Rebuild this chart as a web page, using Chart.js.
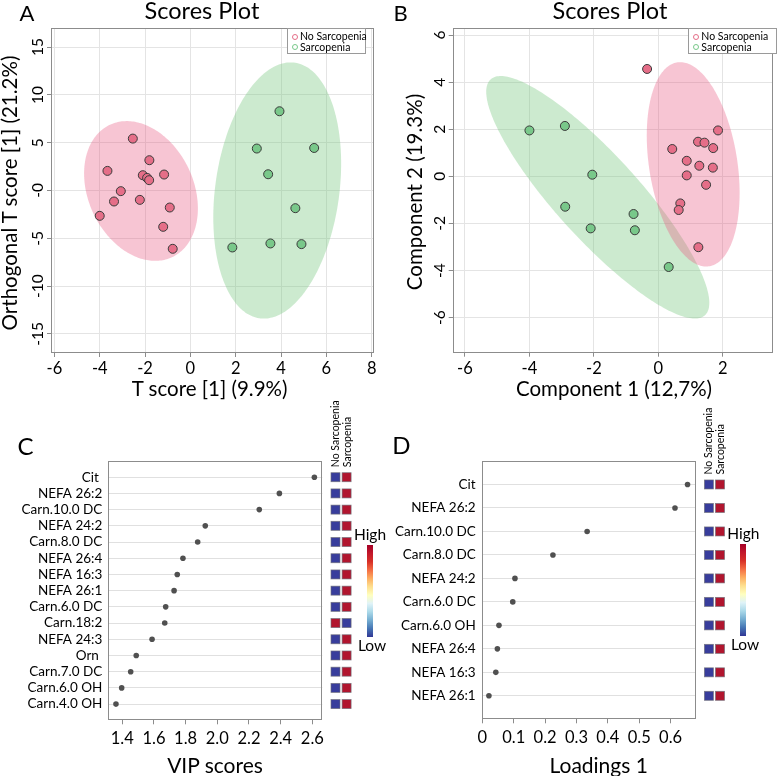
<!DOCTYPE html>
<html><head><meta charset="utf-8">
<script src="https://cdn.jsdelivr.net/npm/chart.js@4/dist/chart.umd.min.js"></script>
<style>
html,body{margin:0;padding:0;background:#fff;}
body{width:778px;height:776px;position:relative;overflow:hidden;font-family:Lato,sans-serif;}
canvas{position:absolute;}
.lg{position:absolute;border:1px solid #9a9a9a;background:#fff;box-sizing:border-box;}
.bar{position:absolute;background:linear-gradient(to bottom,#a50026,#c2172b,#d73027,#f46d43,#fdae61,#fee090,#ffffbf,#e0f3f8,#abd9e9,#74add1,#4575b4,#313695);}
</style></head>
<body>
<canvas id="cA" width="390" height="400" style="left:0;top:0"></canvas>
<canvas id="cB" width="388" height="400" style="left:390px;top:0"></canvas>
<canvas id="cC" width="390" height="376" style="left:0;top:400px"></canvas>
<canvas id="cD" width="388" height="376" style="left:390px;top:400px"></canvas>
<script>
// ---------- DATA ----------
const groups = ['No Sarcopenia', 'Sarcopenia'];
// Panel A (OPLS-DA scores)
const aNoSarcX = [-2.54,-3.66,-1.81,-2.10,-1.91,-1.82,-1.16,-3.07,-3.37,-2.23,-4.00,-0.91,-1.20,-0.78];
const aNoSarcY = [5.43,2.05,3.17,1.60,1.32,1.08,1.67,-0.07,-1.15,-0.98,-2.65,-1.78,-3.80,-6.10];
const aSarcX = [3.93,2.93,5.46,3.43,4.63,1.85,3.53,4.90];
const aSarcY = [8.29,4.39,4.45,1.70,-1.85,-5.96,-5.54,-5.61];
// ellipse: [centerX, centerY, halfWidthX, halfHeightY, tilt correlation]
const aNoSarcEllipse = [-2.18, -0.05, 2.51, 7.31, -0.25];
const aSarcEllipse = [3.83, 0.00, 2.82, 13.40, 0.21];
const aXTicks = [-6,-4,-2,0,2,4,6,8];
const aYTicks = [-15,-10,-5,0,5,10,15];
const aYTickLabels = ['-15','-10','-5','-0','5','10','15'];
// Panel B (PLS-DA scores)
const bNoSarcX = [-0.35,1.85,0.43,1.23,1.43,1.70,0.88,1.27,1.69,0.88,1.48,0.68,0.63,1.24];
const bNoSarcY = [4.56,1.95,1.16,1.47,1.43,1.20,0.66,0.45,0.37,0.04,-0.36,-1.15,-1.43,-3.01];
const bSarcX = [-4.00,-2.90,-2.05,-2.89,-2.10,-0.77,-0.73,0.32];
const bSarcY = [1.95,2.14,0.07,-1.29,-2.21,-1.60,-2.29,-3.85];
const bNoSarcEllipse = [1.08, 0.51, 1.44, 4.34, -0.28];
const bSarcEllipse = [-1.88, -0.89, 3.46, 5.15, -0.87];
const bXTicks = [-6,-4,-2,0,2];
const bYTicks = [-6,-4,-2,0,2,4,6];
// Panel C (VIP scores)
const cLabels = ['Cit ','NEFA 26:2','Carn.10.0 DC','NEFA 24:2','Carn.8.0 DC','NEFA 26:4','NEFA 16:3','NEFA 26:1','Carn.6.0 DC','Carn.18:2','NEFA 24:3','Orn ','Carn.7.0 DC','Carn.6.0 OH','Carn.4.0 OH'];
const cVip = [2.613,2.392,2.265,1.924,1.876,1.783,1.747,1.727,1.674,1.668,1.588,1.488,1.453,1.396,1.360];
const cNoSarcLevel = [0,0,0,0,0,0,0,0,0,1,0,0,0,0,0]; // 0 = Low, 1 = High
const cSarcLevel   = [1,1,1,1,1,1,1,1,1,0,1,1,1,1,1];
const cXTicks = [1.4,1.6,1.8,2.0,2.2,2.4,2.6];
// Panel D (Loadings)
const dLabels = ['Cit','NEFA 26:2','Carn.10.0 DC','Carn.8.0 DC','NEFA 24:2','Carn.6.0 DC','Carn.6.0 OH','NEFA 26:4','NEFA 16:3','NEFA 26:1'];
const dLoad = [0.654,0.614,0.334,0.225,0.104,0.097,0.053,0.048,0.043,0.021];
const dNoSarcLevel = [0,0,0,0,0,0,0,0,0,0];
const dSarcLevel   = [1,1,1,1,1,1,1,1,1,1];
const dXTicks = [0,0.1,0.2,0.3,0.4,0.5,0.6];

// ---------- STYLE ----------
const FONT = 'Lato';
const PINK = '#e56e88', GREEN = '#79c88a';
const PINK_E = 'rgba(233,90,130,0.35)', GREEN_E = 'rgba(120,200,130,0.38)';
const LOW = '#383d9c', HIGH = '#b1152e';
const BOX = '#8c8c8c';

function txt(s, x, y, size, o = {}) {
  const d = document.createElement('div');
  d.textContent = s;
  const tr = o.left ? 'translate(0,-50%)' : 'translate(-50%,-50%)';
  d.style.cssText = `position:absolute;left:${x}px;top:${y}px;font:400 ${size}px ${FONT};line-height:1;white-space:nowrap;color:#000;transform:${tr}${o.rot ? ' rotate(-90deg)' : ''}`;
  document.body.appendChild(d);
}

const boxPlugin = { id: 'box', afterDraw(chart) {
  const a = chart.chartArea, c = chart.ctx;
  c.save(); c.strokeStyle = BOX; c.lineWidth = 1;
  c.strokeRect(Math.round(a.left) + 0.5, Math.round(a.top) + 0.5, Math.round(a.right - a.left) - 1, Math.round(a.bottom - a.top) - 1);
  c.restore();
}};

function ellipsePlugin(list) { return { id: 'ell', beforeDatasetsDraw(chart) {
  const { ctx, chartArea: a, scales: { x, y } } = chart;
  ctx.save(); ctx.beginPath(); ctx.rect(a.left, a.top, a.right - a.left, a.bottom - a.top); ctx.clip();
  list.forEach(([p, col]) => {
    const [cx, cy, sx, sy, r] = p, q = Math.sqrt(1 - r * r);
    ctx.beginPath();
    for (let k = 0; k <= 240; k++) {
      const t = 2 * Math.PI * k / 240;
      const px = x.getPixelForValue(cx + sx * Math.cos(t));
      const py = y.getPixelForValue(cy + sy * (r * Math.cos(t) + q * Math.sin(t)));
      k ? ctx.lineTo(px, py) : ctx.moveTo(px, py);
    }
    ctx.closePath(); ctx.fillStyle = col; ctx.fill();
  });
  ctx.restore();
}};}

function rotYTicks(labels, dx) { return { id: 'rty', afterDraw(chart) {
  const { ctx, chartArea: a, scales: { y } } = chart;
  ctx.save(); ctx.font = `15.5px ${FONT}`; ctx.fillStyle = '#000'; ctx.textAlign = 'center'; ctx.textBaseline = 'middle';
  y.ticks.forEach((t, i) => {
    ctx.save(); ctx.translate(a.left + dx, y.getPixelForValue(t.value)); ctx.rotate(-Math.PI / 2);
    ctx.fillText(labels ? labels[i] : String(t.value), 0, 0); ctx.restore();
  });
  ctx.restore();
}};}

function heatPlugin(noLvl, sLvl) { return { id: 'heat', afterDraw(chart) {
  const { ctx, chartArea: a, scales: { y } } = chart;
  ctx.save();
  const cell = (x0, yc, v) => {
    ctx.fillStyle = v ? HIGH : LOW; ctx.fillRect(x0, yc - 4.5, 9, 9);
    ctx.strokeStyle = 'rgba(110,110,120,0.8)'; ctx.lineWidth = 0.8; ctx.strokeRect(x0, yc - 4.5, 9, 9);
  };
  noLvl.forEach((v, i) => { const yc = y.getPixelForValue(i + 1); cell(a.right + 8.7, yc, v); cell(a.right + 19.8, yc, sLvl[i]); });
  const y0 = y.getPixelForValue(1) - 10;
  ctx.font = `10.5px ${FONT}`; ctx.fillStyle = '#000'; ctx.textAlign = 'left'; ctx.textBaseline = 'middle';
  [[groups[0], 13], [groups[1], 25]].forEach(([s, dx]) => {
    ctx.save(); ctx.translate(a.right + dx, y0); ctx.rotate(-Math.PI / 2); ctx.fillText(s, 0, 0); ctx.restore();
  });
  ctx.restore();
}};}

function scoreChart(id, pts, ells, xr, yr, xt, yt, ytl, pad, yW, ytDx) {
  const ds = pts.map(([xs, ys, col]) => ({
    data: xs.map((v, i) => ({ x: v, y: ys[i] })), backgroundColor: col, borderColor: '#3a3a3a', borderWidth: 1, pointRadius: 4.5
  }));
  return new Chart(document.getElementById(id), {
    type: 'scatter', data: { datasets: ds },
    options: {
      responsive: false, animation: false, layout: { padding: pad },
      plugins: { legend: { display: false }, tooltip: { enabled: false } },
      scales: {
        x: { type: 'linear', min: xr[0], max: xr[1], afterBuildTicks: ax => { ax.ticks = xt.map(v => ({ value: v })); },
          ticks: { font: { family: FONT, size: 16.5 }, color: '#000', padding: 2, maxRotation: 0, autoSkip: false },
          grid: { color: '#e4e4e4', tickColor: BOX, tickLength: 4 }, border: { display: false },
          afterFit: ax => { ax.height = 30; } },
        y: { type: 'linear', min: yr[0], max: yr[1], afterBuildTicks: ax => { ax.ticks = yt.map(v => ({ value: v })); },
          ticks: { display: false }, grid: { color: '#e4e4e4', tickColor: BOX, tickLength: 4 }, border: { display: false },
          afterFit: ax => { ax.width = yW; } }
      }
    },
    plugins: [ellipsePlugin(ells), boxPlugin, rotYTicks(ytl, ytDx)]
  });
}

scoreChart('cA', [[aNoSarcX, aNoSarcY, PINK], [aSarcX, aSarcY, GREEN]],
  [[aSarcEllipse, GREEN_E], [aNoSarcEllipse, PINK_E]], [-6.15, 8.1], [-17, 17], aXTicks, aYTicks, aYTickLabels,
  { left: 0, top: 28, right: 16, bottom: 17 }, 51, -13);
scoreChart('cB', [[bNoSarcX, bNoSarcY, PINK], [bSarcX, bSarcY, GREEN]],
  [[bSarcEllipse, GREEN_E], [bNoSarcEllipse, PINK_E]], [-6.38, 3.54], [-7.49, 6.3], bXTicks, bYTicks, null,
  { left: 0, top: 28, right: 1.3, bottom: 17.3 }, 62.7, -12.7);

function dotChart(id, labels, vals, noLvl, sLvl, xr, xt, fmt, pad, yW) {
  return new Chart(document.getElementById(id), {
    type: 'scatter',
    data: { datasets: [{ data: vals.map((v, i) => ({ x: v, y: i + 1 })), backgroundColor: '#505050', borderWidth: 0, pointRadius: 2.8 }] },
    options: {
      responsive: false, animation: false, layout: { padding: pad },
      plugins: { legend: { display: false }, tooltip: { enabled: false } },
      scales: {
        x: { type: 'linear', min: xr[0], max: xr[1], afterBuildTicks: ax => { ax.ticks = xt.map(v => ({ value: v })); },
          ticks: { callback: fmt, font: { family: FONT, size: 16.5 }, color: '#000', padding: 4, maxRotation: 0, autoSkip: false },
          grid: { drawOnChartArea: false, tickColor: BOX, tickLength: 4 }, border: { display: false },
          afterFit: ax => { ax.height = 35; } },
        y: { type: 'linear', reverse: true, min: 0, max: labels.length + 1,
          afterBuildTicks: ax => { ax.ticks = labels.map((l, i) => ({ value: i + 1 })); },
          ticks: { callback: v => labels[v - 1], font: { family: FONT, size: 13.5 }, color: '#000', padding: 6, autoSkip: false },
          grid: { color: '#e0e0e0', drawTicks: false }, border: { display: false },
          afterFit: ax => { ax.width = yW; } }
      }
    },
    plugins: [boxPlugin, heatPlugin(noLvl, sLvl)]
  });
}
dotChart('cC', cLabels, cVip, cNoSarcLevel, cSarcLevel, [1.3116, 2.663], cXTicks, v => v.toFixed(1),
  { left: 0, top: 61, right: 67.7, bottom: 20.7 }, 108.3);
dotChart('cD', dLabels, dLoad, dNoSarcLevel, dSarcLevel, [-0.002, 0.68], dXTicks, v => v === 0 ? '0' : v.toFixed(1),
  { left: 0, top: 61, right: 82.3, bottom: 21.7 }, 91.7);

// ---------- TEXT ----------
txt('A', 27, 13, 22); txt('B', 400.5, 13, 22); txt('C', 25.5, 445.5, 24); txt('D', 401.5, 445, 24);
txt('Scores Plot', 202, 11, 23.5); txt('Scores Plot', 610, 11, 23.5);
txt('T score [1] (9.9%)', 209.7, 388, 20.5);
txt('Orthogonal T score [1] (21.2%)', 9, 193, 20.5, { rot: true });
txt('Component 1 (12,7%)', 614, 388, 20.5);
txt('Component 2 (19.3%)', 414, 191.5, 20.5, { rot: true });
txt('VIP scores', 215, 764, 21);
txt('Loadings 1', 598.7, 764, 21);

function legend(x0, w) {
  const d = document.createElement('div'); d.className = 'lg';
  d.style.cssText += `left:${x0}px;top:28px;width:${w}px;height:26px;`;
  document.body.appendChild(d);
  [[groups[0], PINK, 36.3], [groups[1], GREEN, 46.7]].forEach(([s, col, y]) => {
    const m = document.createElement('div');
    m.style.cssText = `position:absolute;left:${x0 + 4.5}px;top:${y - 2.5}px;width:4px;height:4px;border:1px solid ${col};border-radius:50%;`;
    document.body.appendChild(m);
    txt(s, x0 + 13, y, 10.5, { left: true });
  });
}
legend(287, 79); legend(688.3, 88.4);

function colorbar(x, top, hx, lx, hy, ly) {
  const b = document.createElement('div'); b.className = 'bar';
  b.style.cssText += `left:${x}px;top:${top}px;width:6px;height:92px;`;
  document.body.appendChild(b);
  txt('High', hx, hy, 15.5); txt('Low', lx, ly, 15.5);
}
colorbar(367, 545, 370, 372, 535, 645.5);
colorbar(740.3, 544, 743.3, 745, 534, 644.5);
</script>
</body></html>
